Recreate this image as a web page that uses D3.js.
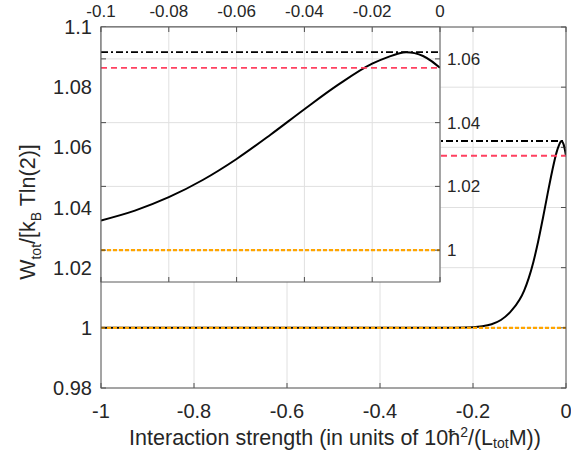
<!DOCTYPE html>
<html>
<head>
<meta charset="utf-8">
<script src="https://cdn.jsdelivr.net/npm/d3@7"></script>
<style>
  body { margin: 0; background: #fff; }
  svg text { font-family: "Liberation Sans", Arial, Helvetica, sans-serif; fill: #262626; }
</style>
</head>
<body>
<div class="chart"></div>
<script>
// work curve, interaction strength vs W_tot/[kB T ln2]
var curveX = [-1, -0.6, -0.3, -0.25, -0.2, -0.18, -0.16, -0.14, -0.12, -0.1, -0.09, -0.08, -0.07, -0.06, -0.05, -0.04, -0.03, -0.02, -0.015, -0.0125, -0.01, -0.0075, -0.005, -0.0025, 0];
var curveW = [1.0, 1.0, 1.0, 1.00005, 1.0002, 1.0005, 1.0012, 1.0026, 1.0052, 1.0093, 1.0124, 1.0166, 1.022, 1.0286, 1.0362, 1.0442, 1.0519, 1.0585, 1.0607, 1.0616, 1.0621, 1.0618, 1.0609, 1.0593, 1.0572];

// horizontal reference levels
var levelMax = 1.0621;   // black dash-dot
var levelEnd = 1.0572;   // red dashed
var levelBase = 1.0;     // orange dotted

var mainXTicks = [-1, -0.8, -0.6, -0.4, -0.2, 0];
var mainYTicks = [0.98, 1, 1.02, 1.04, 1.06, 1.08, 1.1];
var insetXTicks = [-0.1, -0.08, -0.06, -0.04, -0.02, 0];
var insetYTicks = [1, 1.02, 1.04, 1.06];

var W = 571, H = 457;
var main = {left: 101, right: 566, top: 27, bottom: 388};
var inset = {left: 101, right: 440, top: 27, bottom: 282};

var axisColor = "#262626";
var gridColor = "#e0e0e0";

var data = curveX.map(function (x, i) { return {x: x, y: curveW[i]}; });

var svg = d3.select(".chart").append("svg")
  .attr("width", W).attr("height", H);

var x = d3.scaleLinear().domain([-1, 0]).range([main.left, main.right]);
var y = d3.scaleLinear().domain([0.98, 1.1]).range([main.bottom, main.top]);

var xi = d3.scaleLinear().domain([-0.1, 0]).range([inset.left, inset.right]);
var yi = d3.scaleLinear().domain([0.99, 1.07]).range([inset.bottom, inset.top]);

// draws grid, lines and box of one axes
function drawAxes(g, sx, sy, xt, yt, pts, clipId) {
  var x0 = sx.range()[0], x1 = sx.range()[1];
  var y0 = sy.range()[0], y1 = sy.range()[1];

  g.append("rect").attr("x", x0).attr("y", y1)
    .attr("width", x1 - x0).attr("height", y0 - y1).attr("fill", "#fff");

  // grid
  g.selectAll(".gx").data(xt).enter().append("line")
    .attr("x1", d => sx(d)).attr("x2", d => sx(d))
    .attr("y1", y0).attr("y2", y1)
    .attr("stroke", gridColor).attr("stroke-width", 1);
  g.selectAll(".gy").data(yt).enter().append("line")
    .attr("y1", d => sy(d)).attr("y2", d => sy(d))
    .attr("x1", x0).attr("x2", x1)
    .attr("stroke", gridColor).attr("stroke-width", 1);

  svg.append("clipPath").attr("id", clipId).append("rect")
    .attr("x", x0).attr("y", y1).attr("width", x1 - x0).attr("height", y0 - y1);

  var plot = g.append("g").attr("clip-path", "url(#" + clipId + ")");

  var line = d3.line().x(d => sx(d.x)).y(d => sy(d.y)).curve(d3.curveMonotoneX);
  plot.append("path").datum(pts).attr("d", line)
    .attr("fill", "none").attr("stroke", "#000").attr("stroke-width", 2);

  function hline(v, color, dash, w) {
    plot.append("line").attr("x1", x0).attr("x2", x1)
      .attr("y1", sy(v)).attr("y2", sy(v))
      .attr("stroke", color).attr("stroke-width", w)
      .attr("stroke-dasharray", dash);
  }
  hline(levelMax, "#000", "7,3,2,3", 1.8);
  hline(levelEnd, "#ff4060", "6,4", 1.8);
  hline(levelBase, "#ffa500", "4,2", 2.4);

  // ticks (inward, both sides)
  var tl = 5;
  xt.forEach(function (d) {
    g.append("line").attr("x1", sx(d)).attr("x2", sx(d)).attr("y1", y0).attr("y2", y0 - tl)
      .attr("stroke", axisColor).attr("stroke-width", 0.8);
    g.append("line").attr("x1", sx(d)).attr("x2", sx(d)).attr("y1", y1).attr("y2", y1 + tl)
      .attr("stroke", axisColor).attr("stroke-width", 0.8);
  });
  yt.forEach(function (d) {
    g.append("line").attr("y1", sy(d)).attr("y2", sy(d)).attr("x1", x0).attr("x2", x0 + tl)
      .attr("stroke", axisColor).attr("stroke-width", 0.8);
    g.append("line").attr("y1", sy(d)).attr("y2", sy(d)).attr("x1", x1).attr("x2", x1 - tl)
      .attr("stroke", axisColor).attr("stroke-width", 0.8);
  });

  g.append("rect").attr("x", x0).attr("y", y1)
    .attr("width", x1 - x0).attr("height", y0 - y1)
    .attr("fill", "none").attr("stroke", "#5a5a5a").attr("stroke-width", 1);
}

var gMain = svg.append("g");
drawAxes(gMain, x, y, mainXTicks, mainYTicks, data, "clipMain");

// main tick labels
var fmt = d => String(+d.toFixed(2));
gMain.selectAll(".xl").data(mainXTicks).enter().append("text")
  .attr("x", d => x(d)).attr("y", 418)
  .attr("text-anchor", "middle").style("font-size", "20px").text(fmt);
gMain.selectAll(".yl").data(mainYTicks).enter().append("text")
  .attr("x", 92).attr("y", d => y(d) + 7)
  .attr("text-anchor", "end").style("font-size", "20px").text(fmt);

// axis titles
var xl = svg.append("text").attr("x", 335).attr("y", 445)
  .attr("text-anchor", "middle").style("font-size", "21.5px");
xl.append("tspan").text("Interaction strength (in units of 10\u0127");
xl.append("tspan").attr("dy", -8).style("font-size", "14px").text("2");
xl.append("tspan").attr("dy", 8).text("/(L");
xl.append("tspan").attr("dy", 3).style("font-size", "14px").text("tot");
xl.append("tspan").attr("dy", -3).text("M))");

var yl = svg.append("text").attr("transform", "translate(35,212) rotate(-90)")
  .attr("text-anchor", "middle").style("font-size", "21.5px");
yl.append("tspan").text("W");
yl.append("tspan").attr("dy", 6).style("font-size", "14px").text("tot");
yl.append("tspan").attr("dy", -6).text("/[k");
yl.append("tspan").attr("dy", 6).style("font-size", "14px").text("B");
yl.append("tspan").attr("dy", -6).text(" Tln(2)]");

// inset
var gIn = svg.append("g");
drawAxes(gIn, xi, yi, insetXTicks, insetYTicks,
  data.filter(d => d.x >= -0.1), "clipInset");

gIn.selectAll(".ixl").data(insetXTicks).enter().append("text")
  .attr("x", d => xi(d)).attr("y", 17)
  .attr("text-anchor", "middle").style("font-size", "17px").text(fmt);
gIn.selectAll(".iyl").data(insetYTicks).enter().append("text")
  .attr("x", 447).attr("y", d => yi(d) + 6)
  .attr("text-anchor", "start").style("font-size", "17px").text(fmt);
</script>
</body>
</html>
